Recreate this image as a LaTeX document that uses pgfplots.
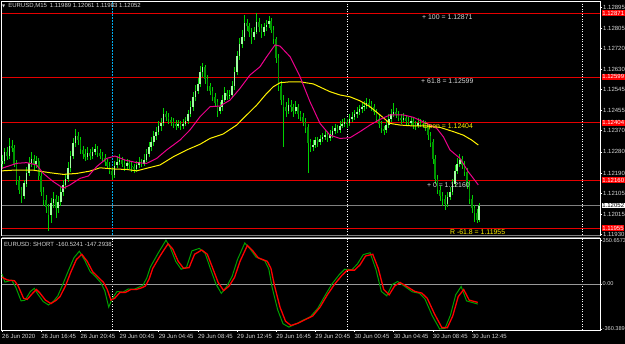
\documentclass[border=0pt]{standalone}
\usepackage{pgfplots}
\pgfplotsset{compat=1.18}
\usepackage{pgfplotstable}
\usepackage{fontspec}
\setmainfont{Liberation Sans}
\newfontfamily\symfont{DejaVu Sans}
\definecolor{fg}{RGB}{215,215,215}
\definecolor{bull}{RGB}{160,255,160}
\definecolor{bear}{RGB}{0,150,0}
\definecolor{wick}{RGB}{0,210,0}
\definecolor{fibred}{RGB}{230,0,0}
\definecolor{oscgreen}{RGB}{0,160,0}
\newcommand{\tl}{\fontsize{6}{7}\selectfont}
\newcommand{\tlb}{\fontsize{6.9}{8}\selectfont}
\newcommand{\tls}{\fontsize{5.6}{6.5}\selectfont}

\pgfplotstableread{
t o h l c
0.00 1.12230 1.12268 1.12205 1.12240
0.25 1.12240 1.12298 1.12228 1.12281
0.50 1.12281 1.12300 1.12245 1.12262
0.75 1.12262 1.12340 1.12250 1.12305
1.00 1.12305 1.12330 1.12280 1.12296
1.25 1.12296 1.12310 1.12215 1.12230
1.50 1.12230 1.12245 1.12140 1.12160
1.75 1.12160 1.12178 1.12100 1.12118
2.00 1.12118 1.12130 1.12062 1.12092
2.25 1.12092 1.12160 1.12080 1.12145
2.50 1.12145 1.12215 1.12130 1.12190
2.75 1.12190 1.12260 1.12175 1.12232
3.00 1.12232 1.12280 1.12215 1.12250
3.25 1.12250 1.12265 1.12200 1.12228
3.50 1.12228 1.12262 1.12210 1.12241
3.75 1.12241 1.12255 1.12160 1.12178
4.00 1.12178 1.12195 1.12090 1.12110
4.25 1.12110 1.12130 1.12050 1.12078
4.50 1.12078 1.12095 1.12020 1.12045
4.75 1.12045 1.12060 1.11945 1.12010
5.00 1.12010 1.12085 1.11975 1.12062
5.25 1.12062 1.12110 1.12040 1.12080
5.50 1.12080 1.12095 1.12000 1.12040
5.75 1.12040 1.12090 1.12020 1.12066
6.00 1.12066 1.12130 1.12050 1.12112
6.25 1.12112 1.12160 1.12090 1.12140
6.50 1.12140 1.12185 1.12120 1.12165
6.75 1.12165 1.12235 1.12150 1.12210
7.00 1.12210 1.12285 1.12195 1.12262
7.25 1.12262 1.12340 1.12250 1.12318
7.50 1.12318 1.12377 1.12300 1.12349
7.75 1.12349 1.12365 1.12310 1.12330
8.00 1.12330 1.12345 1.12270 1.12290
8.25 1.12290 1.12305 1.12250 1.12272
8.50 1.12272 1.12290 1.12240 1.12260
8.75 1.12260 1.12300 1.12245 1.12275
9.00 1.12275 1.12290 1.12245 1.12262
9.25 1.12262 1.12300 1.12250 1.12280
9.50 1.12280 1.12315 1.12265 1.12292
9.75 1.12292 1.12305 1.12260 1.12275
10.00 1.12275 1.12290 1.12248 1.12262
10.25 1.12262 1.12280 1.12240 1.12255
10.50 1.12255 1.12270 1.12220 1.12236
10.75 1.12236 1.12250 1.12205 1.12220
11.00 1.12220 1.12235 1.12185 1.12198
11.25 1.12198 1.12215 1.12160 1.12183
11.50 1.12183 1.12240 1.12170 1.12222
11.75 1.12222 1.12262 1.12210 1.12238
12.00 1.12238 1.12270 1.12225 1.12248
12.25 1.12248 1.12260 1.12215 1.12230
12.50 1.12230 1.12245 1.12200 1.12220
12.75 1.12220 1.12250 1.12208 1.12232
13.00 1.12232 1.12245 1.12205 1.12222
13.25 1.12222 1.12235 1.12195 1.12215
13.50 1.12215 1.12228 1.12190 1.12208
13.75 1.12208 1.12240 1.12195 1.12222
14.00 1.12222 1.12260 1.12210 1.12238
14.25 1.12238 1.12250 1.12215 1.12230
14.50 1.12230 1.12270 1.12220 1.12246
14.75 1.12246 1.12290 1.12235 1.12270
15.00 1.12270 1.12320 1.12258 1.12300
15.25 1.12300 1.12345 1.12285 1.12322
15.50 1.12322 1.12370 1.12305 1.12348
15.75 1.12348 1.12385 1.12330 1.12365
16.00 1.12365 1.12410 1.12350 1.12390
16.25 1.12390 1.12425 1.12370 1.12405
16.50 1.12405 1.12466 1.12390 1.12440
16.75 1.12440 1.12455 1.12410 1.12430
17.00 1.12430 1.12445 1.12400 1.12418
17.25 1.12418 1.12430 1.12390 1.12410
17.50 1.12410 1.12425 1.12380 1.12398
17.75 1.12398 1.12415 1.12375 1.12392
18.00 1.12392 1.12415 1.12380 1.12398
18.25 1.12398 1.12410 1.12372 1.12390
18.50 1.12390 1.12420 1.12378 1.12400
18.75 1.12400 1.12430 1.12388 1.12412
19.00 1.12412 1.12460 1.12400 1.12440
19.25 1.12440 1.12495 1.12428 1.12470
19.50 1.12470 1.12535 1.12455 1.12512
19.75 1.12512 1.12565 1.12495 1.12540
20.00 1.12540 1.12595 1.12525 1.12570
20.25 1.12570 1.12645 1.12555 1.12620
20.50 1.12620 1.12658 1.12600 1.12640
20.75 1.12640 1.12650 1.12570 1.12590
21.00 1.12590 1.12605 1.12540 1.12560
21.25 1.12560 1.12575 1.12520 1.12540
21.50 1.12540 1.12555 1.12495 1.12515
21.75 1.12515 1.12530 1.12470 1.12490
22.00 1.12490 1.12505 1.12430 1.12455
22.25 1.12455 1.12490 1.12440 1.12470
22.50 1.12470 1.12520 1.12455 1.12502
22.75 1.12502 1.12555 1.12490 1.12530
23.00 1.12530 1.12545 1.12500 1.12520
23.25 1.12520 1.12545 1.12505 1.12525
23.50 1.12525 1.12580 1.12510 1.12560
23.75 1.12560 1.12640 1.12545 1.12620
24.00 1.12620 1.12710 1.12605 1.12690
24.25 1.12690 1.12765 1.12670 1.12740
24.50 1.12740 1.12800 1.12720 1.12770
24.75 1.12770 1.12862 1.12750 1.12830
25.00 1.12830 1.12845 1.12795 1.12815
25.25 1.12815 1.12830 1.12770 1.12790
25.50 1.12790 1.12805 1.12740 1.12770
25.75 1.12770 1.12810 1.12755 1.12790
26.00 1.12790 1.12871 1.12780 1.12835
26.25 1.12835 1.12850 1.12790 1.12810
26.50 1.12810 1.12825 1.12765 1.12790
26.75 1.12790 1.12830 1.12775 1.12812
27.00 1.12812 1.12840 1.12795 1.12822
27.25 1.12822 1.12858 1.12805 1.12838
27.50 1.12838 1.12850 1.12785 1.12800
27.75 1.12800 1.12815 1.12740 1.12760
28.00 1.12760 1.12770 1.12660 1.12680
28.25 1.12680 1.12695 1.12540 1.12560
28.50 1.12560 1.12580 1.12480 1.12500
28.75 1.12500 1.12520 1.12300 1.12470
29.00 1.12470 1.12490 1.12430 1.12455
29.25 1.12455 1.12510 1.12440 1.12480
29.50 1.12480 1.12500 1.12450 1.12470
29.75 1.12470 1.12485 1.12430 1.12455
30.00 1.12455 1.12495 1.12440 1.12470
30.25 1.12470 1.12485 1.12420 1.12440
30.50 1.12440 1.12455 1.12410 1.12430
30.75 1.12430 1.12445 1.12390 1.12410
31.00 1.12410 1.12425 1.12360 1.12385
31.25 1.12385 1.12400 1.12190 1.12320
31.50 1.12320 1.12335 1.12280 1.12300
31.75 1.12300 1.12330 1.12285 1.12312
32.00 1.12312 1.12345 1.12295 1.12330
32.25 1.12330 1.12342 1.12300 1.12322
32.50 1.12322 1.12350 1.12310 1.12335
32.75 1.12335 1.12362 1.12320 1.12345
33.00 1.12345 1.12372 1.12330 1.12352
33.25 1.12352 1.12365 1.12320 1.12340
33.50 1.12340 1.12372 1.12328 1.12355
33.75 1.12355 1.12390 1.12340 1.12370
34.00 1.12370 1.12400 1.12355 1.12382
34.25 1.12382 1.12395 1.12360 1.12375
34.50 1.12375 1.12410 1.12362 1.12392
34.75 1.12392 1.12418 1.12380 1.12400
35.00 1.12400 1.12425 1.12385 1.12408
35.25 1.12408 1.12420 1.12380 1.12402
35.50 1.12402 1.12440 1.12390 1.12420
35.75 1.12420 1.12448 1.12405 1.12430
36.00 1.12430 1.12458 1.12415 1.12440
36.25 1.12440 1.12470 1.12425 1.12452
36.50 1.12452 1.12480 1.12438 1.12462
36.75 1.12462 1.12490 1.12445 1.12470
37.00 1.12470 1.12495 1.12455 1.12478
37.25 1.12478 1.12509 1.12462 1.12490
37.50 1.12490 1.12505 1.12465 1.12482
37.75 1.12482 1.12495 1.12455 1.12470
38.00 1.12470 1.12482 1.12435 1.12450
38.25 1.12450 1.12462 1.12405 1.12420
38.50 1.12420 1.12435 1.12380 1.12398
38.75 1.12398 1.12410 1.12360 1.12380
39.00 1.12380 1.12392 1.12350 1.12372
39.25 1.12372 1.12415 1.12360 1.12395
39.50 1.12395 1.12440 1.12382 1.12420
39.75 1.12420 1.12462 1.12405 1.12440
40.00 1.12440 1.12488 1.12428 1.12452
40.25 1.12452 1.12465 1.12425 1.12440
40.50 1.12440 1.12455 1.12410 1.12425
40.75 1.12425 1.12440 1.12400 1.12418
41.00 1.12418 1.12445 1.12405 1.12425
41.25 1.12425 1.12438 1.12395 1.12412
41.50 1.12412 1.12428 1.12390 1.12405
41.75 1.12405 1.12430 1.12392 1.12410
42.00 1.12410 1.12422 1.12378 1.12395
42.25 1.12395 1.12410 1.12375 1.12392
42.50 1.12392 1.12425 1.12380 1.12405
42.75 1.12405 1.12420 1.12385 1.12400
43.00 1.12400 1.12415 1.12380 1.12398
43.25 1.12398 1.12410 1.12370 1.12388
43.50 1.12388 1.12400 1.12330 1.12350
43.75 1.12350 1.12365 1.12300 1.12320
44.00 1.12320 1.12335 1.12230 1.12250
44.25 1.12250 1.12265 1.12145 1.12165
44.50 1.12165 1.12180 1.12100 1.12120
44.75 1.12120 1.12135 1.12070 1.12095
45.00 1.12095 1.12110 1.12050 1.12080
45.25 1.12080 1.12095 1.12032 1.12060
45.50 1.12060 1.12110 1.12045 1.12090
45.75 1.12090 1.12130 1.12075 1.12110
46.00 1.12110 1.12165 1.12095 1.12145
46.25 1.12145 1.12225 1.12130 1.12200
46.50 1.12200 1.12255 1.12185 1.12230
46.75 1.12230 1.12271 1.12215 1.12248
47.00 1.12248 1.12262 1.12205 1.12225
47.25 1.12225 1.12240 1.12175 1.12195
47.50 1.12195 1.12210 1.12120 1.12140
47.75 1.12140 1.12155 1.12060 1.12080
48.00 1.12080 1.12095 1.12020 1.12040
48.25 1.12040 1.12055 1.11981 1.12020
48.50 1.12020 1.12035 1.11975 1.11989
48.75 1.11989 1.12061 1.11983 1.12052
}\candles

\begin{document}
\begin{tikzpicture}
\fill[black] (0,0) rectangle (625pt,344pt);
% ---------------- main price panel ----------------
\begin{axis}[
  at={(1.5pt,109pt)}, anchor=south west, scale only axis,
  width=598.5pt, height=234pt,
  xmin=-0.05, xmax=61.08, ymin=1.11926, ymax=1.12922,
  clip=false,
  axis line style={white, line width=0.6pt},
  xtick=\empty,
  ytick={1.12895,1.12805,1.12720,1.12630,1.12545,1.12455,1.12370,1.12280,1.12190,1.12105,1.12015,1.11930},
  yticklabels={1.12895,1.12805,1.12720,1.12630,1.12545,1.12455,1.12370,1.12280,1.12190,1.12105,1.12015,1.11930},
  ytick pos=right, yticklabel pos=right,
  tick align=outside, major tick length=2pt,
  tick style={white, line width=0.5pt},
  yticklabel style={font=\tl, text=fg, anchor=west, inner sep=0pt, xshift=1pt},
  scaled y ticks=false,
]
% separators
\addplot[cyan, line width=0.5pt, dash pattern=on 1.5pt off 1.5pt] coordinates {(11.25,1.11926) (11.25,1.12922)};
\addplot[white, line width=0.5pt, dash pattern=on 1pt off 1.5pt] coordinates {(35.25,1.11926) (35.25,1.12922)};
\addplot[white, line width=0.5pt, dash pattern=on 1pt off 1.5pt] coordinates {(59.25,1.11926) (59.25,1.12922)};
% fibo levels
\addplot[fibred, line width=0.7pt] coordinates {(-0.05,1.12871) (61.08,1.12871)};
\addplot[fibred, line width=0.7pt] coordinates {(-0.05,1.12599) (61.08,1.12599)};
\addplot[fibred, line width=0.7pt] coordinates {(-0.05,1.12404) (61.08,1.12404)};
\addplot[fibred, line width=0.7pt] coordinates {(-0.05,1.12160) (61.08,1.12160)};
\addplot[fibred, line width=0.7pt] coordinates {(-0.05,1.11955) (61.08,1.11955)};
\addplot[gray, line width=0.6pt] coordinates {(-0.05,1.12052) (61.08,1.12052)};
% wicks
\addplot[draw=none, forget plot,
  error bars/.cd, y dir=both, y explicit, error mark=none,
  error bar style={draw=wick, line width=0.5pt, solid}]
  table[x=t, y=c, y error plus expr={\thisrow{h}-\thisrow{c}}, y error minus expr={\thisrow{c}-\thisrow{l}}] {\candles};
% bear bodies
\addplot[draw=none, forget plot,
  restrict expr to domain={\thisrow{c}-\thisrow{o}}{-1:0},
  error bars/.cd, y dir=both, y explicit, error mark=none,
  error bar style={draw=bear, line width=1.6pt, solid}]
  table[x=t, y expr={(\thisrow{o}+\thisrow{c})/2}, y error expr={abs(\thisrow{c}-\thisrow{o})/2}] {\candles};
% bull bodies
\addplot[draw=none, forget plot,
  restrict expr to domain={\thisrow{c}-\thisrow{o}}{0:1},
  error bars/.cd, y dir=both, y explicit, error mark=none,
  error bar style={draw=bull, line width=1.6pt, solid}]
  table[x=t, y expr={(\thisrow{o}+\thisrow{c})/2}, y error expr={abs(\thisrow{c}-\thisrow{o})/2}] {\candles};
% slow MA (yellow)
\addplot[yellow, line width=1pt] coordinates {
(0,1.12199) (1.15,1.12202) (3.20,1.12202) (4.90,1.12191) (6.26,1.12184) (7.63,1.12188)
(8.99,1.12198) (10.01,1.12212) (11.37,1.12207) (12.74,1.12205) (13.76,1.12199) (14.78,1.12210)
(16.14,1.12224) (17.50,1.12259) (18.87,1.12288) (20.22,1.12312) (21.25,1.12337) (22.60,1.12356)
(23.97,1.12394) (25.00,1.12437) (26.02,1.12479) (27.04,1.12529) (27.71,1.12557) (28.40,1.12574)
(29.42,1.12578) (30.44,1.12578) (31.80,1.12569) (33.50,1.12536) (34.52,1.12522) (35.55,1.12514)
(36.57,1.12497) (37.59,1.12472) (38.61,1.12437) (39.63,1.12401) (40.65,1.12394) (42.01,1.12390)
(43.38,1.12390) (44.74,1.12384) (46.10,1.12366) (47.12,1.12351) (47.98,1.12330) (48.65,1.12309)};
% fast MA (magenta)
\addplot[magenta, line width=1pt] coordinates {
(0,1.12210) (1.50,1.12231) (2.52,1.12234) (3.54,1.12224) (4.22,1.12188) (5.24,1.12153)
(6.26,1.12125) (6.95,1.12139) (7.97,1.12167) (8.82,1.12177) (9.67,1.12217) (10.69,1.12252)
(11.54,1.12262) (12.56,1.12245) (13.76,1.12234) (14.78,1.12231) (15.80,1.12252) (16.82,1.12288)
(18.18,1.12330) (19.20,1.12373) (20.22,1.12429) (21.25,1.12472) (22.27,1.12475) (23.29,1.12500)
(24.31,1.12550) (25.33,1.12607) (26.35,1.12642) (27.04,1.12685) (27.89,1.12735) (28.40,1.12730)
(29.42,1.12685) (30.44,1.12600) (31.46,1.12493) (32.48,1.12401) (33.50,1.12351) (34.52,1.12337)
(35.55,1.12340) (36.57,1.12366) (37.59,1.12394) (38.61,1.12418) (39.63,1.12437) (40.99,1.12437)
(42.01,1.12427) (43.38,1.12401) (44.40,1.12380) (45.08,1.12344) (45.76,1.12288) (46.78,1.12252)
(47.63,1.12195) (48.65,1.12139)};
% level texts
\node[anchor=west, text=fg, font=\tlb, inner sep=0pt] at (axis cs:42.9,1.12852) {+ 100 = 1.12871};
\node[anchor=west, text=fg, font=\tlb, inner sep=0pt] at (axis cs:42.8,1.12581) {+ 61.8 = 1.12599};
\node[anchor=west, text=yellow, font=\tlb, inner sep=0pt] at (axis cs:43.0,1.12385) {Open = 1.12404};
\node[anchor=west, text=fg, font=\tlb, inner sep=0pt] at (axis cs:43.4,1.12139) {+ 0 = 1.12160};
\node[anchor=west, text=yellow, font=\tlb, inner sep=0pt] at (axis cs:45.76,1.11938) {R -61.8 = 1.11955};
% price scale highlights
\node[anchor=west, fill=red, text=white, font=\tl, inner sep=0.7pt, xshift=1.5pt] at (axis cs:61.08,1.12871) {1.12871};
\node[anchor=west, fill=red, text=white, font=\tl, inner sep=0.7pt, xshift=1.5pt] at (axis cs:61.08,1.12599) {1.12599};
\node[anchor=west, fill=red, text=white, font=\tl, inner sep=0.7pt, xshift=1.5pt] at (axis cs:61.08,1.12404) {1.12404};
\node[anchor=west, fill=red, text=white, font=\tl, inner sep=0.7pt, xshift=1.5pt] at (axis cs:61.08,1.12160) {1.12160};
\node[anchor=west, fill=red, text=white, font=\tl, inner sep=0.7pt, xshift=1.5pt] at (axis cs:61.08,1.11955) {1.11955};
\node[anchor=west, fill=white, text=black, font=\tl, inner sep=0.7pt, xshift=1.5pt] at (axis cs:61.08,1.12052) {1.12052};
\end{axis}
\draw[gray, line width=0.6pt] (1.5pt,108.5pt) -- (600pt,108.5pt);
\draw[gray, line width=0.6pt] (1.5pt,107pt) -- (600pt,107pt);
% header
\node[anchor=west, text=fg, font=\tl, inner sep=0pt] at (2pt,338pt) {{\symfont\fontsize{4}{5}\selectfont ▼}\hspace{3pt}EURUSD,M15\hspace{3pt}1.11989 1.12061 1.11983 1.12052};
% ---------------- oscillator panel ----------------
\begin{axis}[
  at={(1.5pt,14pt)}, anchor=south west, scale only axis,
  width=598.5pt, height=92pt,
  xmin=-0.05, xmax=61.08, ymin=-368, ymax=368,
  clip=false,
  axis line style={white, line width=0.6pt},
  xtick={0,4,8,12,16,20,24,28,32,36,40,44,48},
  xticklabels={26 Jun 2020,26 Jun 16:45,26 Jun 20:45,29 Jun 00:45,29 Jun 04:45,29 Jun 08:45,29 Jun 12:45,29 Jun 16:45,29 Jun 20:45,30 Jun 00:45,30 Jun 04:45,30 Jun 08:45,30 Jun 12:45},
  xtick pos=bottom,
  xticklabel style={font=\tl, text=fg, anchor=north west, inner sep=0pt, yshift=-2pt},
  ytick={350.6573,0,-360.389},
  yticklabels={350.6573,0.00,-360.389},
  ytick pos=right, yticklabel pos=right,
  tick align=outside, major tick length=2pt,
  tick style={white, line width=0.5pt},
  yticklabel style={font=\tls, text=fg, anchor=west, inner sep=0pt, xshift=0.5pt},
  scaled y ticks=false,
]
\addplot[white, line width=0.5pt, dash pattern=on 1pt off 1.5pt] coordinates {(11.25,-368) (11.25,368)};
\addplot[white, line width=0.5pt, dash pattern=on 1pt off 1.5pt] coordinates {(35.25,-368) (35.25,368)};
\addplot[white, line width=0.5pt, dash pattern=on 1pt off 1.5pt] coordinates {(59.25,-368) (59.25,368)};
\addplot[gray!80, line width=0.6pt] coordinates {(-0.05,0) (61.08,0)};
\addplot[oscgreen, line width=1pt] coordinates {
(0,80) (0.3,15) (1.0,30) (1.4,-25) (1.95,-135) (2.35,-130) (2.9,-60) (3.3,-35) (3.65,-80)
(4.2,-140) (4.75,-168) (5.3,-135) (5.7,-95) (6.2,-5) (6.8,110) (7.35,210) (7.9,262) (8.45,190)
(9.0,100) (9.6,55) (10.1,10) (10.5,-55) (10.9,-185) (11.25,-120) (11.75,-60) (12.35,-65)
(12.9,-40) (13.5,-42) (14.0,-25) (14.4,-10) (14.8,50) (15.15,135) (15.9,240) (16.75,350.66)
(17.2,290) (17.75,180) (18.3,118) (18.85,135) (19.4,265) (20.15,285) (20.75,245) (21.3,120)
(21.85,0) (22.4,-75) (22.95,-20) (23.5,60) (24.05,195) (24.8,328) (25.35,280) (25.95,215)
(26.85,185) (27.25,120) (27.6,-30) (28.15,-205) (28.7,-318) (29.3,-345) (30.0,-320) (30.75,-290)
(31.5,-262) (32.25,-195) (33.0,-92) (33.7,0) (34.45,75) (35.0,118) (35.75,115) (36.3,160)
(36.9,235) (37.6,250) (38.2,115) (38.75,-60) (39.3,-95) (39.85,-5) (40.4,20) (41.15,-20)
(41.9,-62) (42.65,-75) (43.2,-120) (43.95,-255) (44.7,-360.39) (45.25,-355) (45.8,-250)
(46.35,-85) (46.9,-20) (47.45,-135) (48.6,-160.52)};
\addplot[red, line width=1.3pt] coordinates {
(0,54) (0.54,32) (1.28,26) (1.65,-16) (2.21,-115) (2.58,-123) (3.14,-73) (3.51,-44) (3.88,-73)
(4.44,-129) (5.0,-157) (5.55,-129) (5.93,-101) (6.48,-16) (7.04,97) (7.6,196) (8.15,238)
(8.71,181) (9.27,97) (9.83,54) (10.38,12) (10.75,-44) (11.13,-129) (11.5,-115) (12.05,-67)
(12.61,-67) (13.17,-44) (13.73,-44) (14.28,-30) (14.65,-16) (15.03,40) (15.4,125) (16.14,224)
(16.96,322) (17.44,280) (18.0,181) (18.55,125) (19.11,131) (19.67,238) (20.41,272) (20.97,238)
(21.53,125) (22.08,12) (22.64,-53) (23.2,-16) (23.76,54) (24.31,181) (25.06,308) (25.61,266)
(26.17,210) (27.1,181) (27.47,125) (27.84,-16) (28.4,-186) (28.96,-298) (29.51,-332)
(30.26,-313) (31.0,-284) (31.74,-256) (32.48,-186) (33.23,-87) (33.97,-2) (34.71,68)
(35.27,111) (36.01,111) (36.57,153) (37.13,224) (37.87,238) (38.43,125) (38.99,-44)
(39.54,-87) (40.1,-16) (40.66,12) (41.4,-22) (42.15,-59) (42.89,-73) (43.44,-115) (44.19,-242)
(44.93,-349) (45.49,-349) (46.04,-256) (46.6,-101) (47.16,-44) (47.72,-129) (48.6,-147.29)};
\end{axis}
\node[anchor=west, text=fg, font=\tl, inner sep=0pt] at (4pt,100pt) {EURUSD:\hspace{2pt}SHORT\hspace{2pt}-160.5241 -147.2938};
\pgfresetboundingbox
\useasboundingbox (0,0) rectangle (625pt,344pt);
\end{tikzpicture}
\end{document}
